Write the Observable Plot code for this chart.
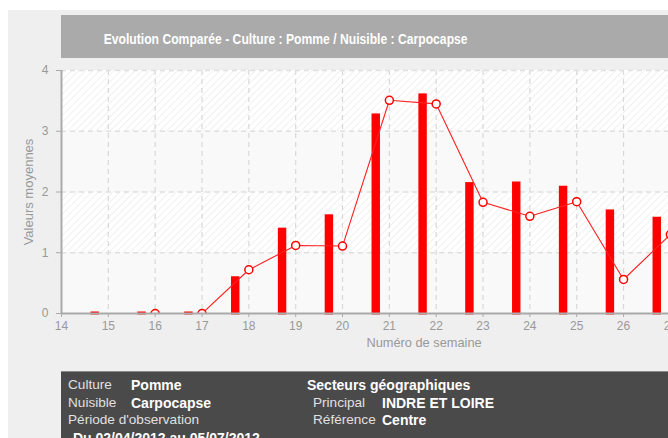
<!DOCTYPE html>
<html><head><meta charset="utf-8">
<script src="https://cdn.jsdelivr.net/npm/d3@7"></script>
<script src="https://cdn.jsdelivr.net/npm/@observablehq/plot@0.6"></script>
<style>
html,body{margin:0;padding:0;width:668px;height:438px;overflow:hidden;background:#fff;font-family:"Liberation Sans",Arial,sans-serif;}
#panel{position:absolute;left:8px;top:10px;width:700px;height:500px;background:#efefef;}
#title{position:absolute;left:61px;top:15px;width:700px;height:43px;background:#aaa;}
#title div{position:absolute;left:0;top:2px;width:448px;text-align:center;line-height:43px;}
#title span{display:inline-block;transform:scaleX(0.81);color:#fff;font-weight:bold;font-size:15px;white-space:nowrap;}
#chart{position:absolute;left:0;top:0;}
#info{position:absolute;left:61px;top:371px;width:700px;height:100px;background:#4a4a4a;border-top:1px solid #8a8a8a;color:#fff;font-size:14px;}
#info span{position:absolute;white-space:nowrap;line-height:16px;}
.lab{color:#e0e0e0;font-size:13.6px;}
.val{font-weight:bold;color:#fff;}
</style>
</head><body>
<svg width="0" height="0" style="position:absolute"><defs>
<pattern id="hatch" patternUnits="userSpaceOnUse" width="5" height="5" patternTransform="rotate(45)">
<rect width="5" height="5" fill="#ffffff"/><line x1="0" y1="0" x2="0" y2="5" stroke="#ebebeb" stroke-width="1.5"/>
</pattern></defs></svg>
<div id="panel"></div>
<div id="title"><div><span></span></div></div>
<div id="chart"></div>
<div id="info"></div>
<script>
const titleText = "Evolution Comparée - Culture : Pomme / Nuisible : Carpocapse";
const xLabel = "Numéro de semaine";
const yLabel = "Valeurs moyennes";

const barWeeks  = [15, 16, 17, 18, 19, 20, 21, 22, 23, 24, 25, 26, 27];
const barValues = [0, 0, 0, 0.58, 1.38, 1.60, 3.26, 3.59, 2.13, 2.14, 2.07, 1.68, 1.56];

const lineWeeks  = [16, 17, 18, 19, 20, 21, 22, 23, 24, 25, 26, 27];
const lineValues = [0, 0, 0.72, 1.12, 1.11, 3.51, 3.45, 1.83, 1.60, 1.84, 0.56, 1.30];

const xTicks = [14, 15, 16, 17, 18, 19, 20, 21, 22, 23, 24, 25, 26, 27];
const yTicks = [0, 1, 2, 3, 4];
const bandLo = [0, 1, 2, 3];
const bandHatched = [false, true, false, true];

const infoLeft = [
  ["Culture", "Pomme"],
  ["Nuisible", "Carpocapse"],
  ["Période d'observation", ""],
  ["", "Du 02/04/2012 au 05/07/2012"]
];
const infoRightTitle = "Secteurs géographiques";
const infoRight = [["Principal", "INDRE ET LOIRE"], ["Référence", "Centre"]];

document.querySelector("#title span").textContent = titleText;

const bars = barWeeks.map((w, i) => ({week: w, value: barValues[i]}));
const pts = lineWeeks.map((w, i) => ({week: w, value: lineValues[i]}));
const bands = bandLo.map((lo, i) => ({lo, hi: lo + 1, hatched: bandHatched[i]}));

const font = "'Liberation Sans', Arial, sans-serif";
const chart = Plot.plot({
  width: 668, height: 360,
  marginLeft: 61, marginTop: 70, marginRight: 0, marginBottom: 47,
  x: {domain: [14, 26.96]},
  y: {domain: [0, 4]},
  style: {background: "transparent", overflow: "visible", fontFamily: font, fontSize: "12px"},
  marks: [
    Plot.rect(bands.filter(d => d.hatched), {y1: "lo", y2: "hi", fill: "url(#hatch)"}),
    Plot.rect(bands.filter(d => !d.hatched), {y1: "lo", y2: "hi", fill: "#f9f9f9"}),
    Plot.gridX(xTicks.filter(d => d > 14), {stroke: "#d8d8d8", strokeOpacity: 1, strokeWidth: 1.2, strokeDasharray: "5,4"}),
    Plot.gridY(yTicks.filter(d => d > 0), {stroke: "#e0e0e0", strokeOpacity: 1, strokeWidth: 1.5, strokeDasharray: "5,4"}),
    Plot.rectY(bars, {x1: d => d.week - 0.37, x2: d => d.week - 0.19, y: "value", fill: "#ff0000", insetTop: -1.5, insetBottom: -1.5}),
    Plot.line(pts, {x: "week", y: "value", stroke: "#ff2020", strokeWidth: 1.1, clip: true}),
    Plot.dot(pts, {x: "week", y: "value", r: 4, fill: "white", stroke: "#ff0000", strokeWidth: 1.5, clip: true}),
    Plot.ruleY([0], {stroke: "#aaa", strokeWidth: 2}),
    Plot.ruleX([14], {stroke: "#aaa", strokeWidth: 2}),
    Plot.axisX(xTicks, {tickSize: 4, tickPadding: 4, stroke: "#aaa", fill: "#999", fontSize: 12, label: null, tickFormat: d => d}),
    Plot.axisY(yTicks, {tickSize: 5, tickPadding: 8, stroke: "#aaa", fill: "#999", fontSize: 12, label: null, tickFormat: d => d}),
    Plot.text([xLabel], {frameAnchor: "bottom", dx: 59, dy: 33, fill: "#999", fontSize: 12.8}),
    Plot.text([yLabel], {frameAnchor: "left", textAnchor: "middle", rotate: -90, dx: -33, fill: "#999", fontSize: 13})
  ]
});
document.getElementById("chart").appendChild(chart);

const info = document.getElementById("info");
function addSpan(txt, x, y, cls) {
  const s = document.createElement("span");
  s.textContent = txt; s.className = cls;
  s.style.left = x + "px"; s.style.top = y + "px";
  info.appendChild(s);
}
const rowY = [5, 22.5, 40, 57.5];
infoLeft.forEach((r, i) => {
  if (r[0]) addSpan(r[0], 7, rowY[i], "lab");
  if (r[1]) addSpan(r[1], i === 3 ? 12 : 70, rowY[i], "val");
});
addSpan(infoRightTitle, 246, rowY[0], "val");
infoRight.forEach((r, i) => {
  addSpan(r[0], 252, rowY[i + 1], "lab");
  addSpan(r[1], 321, rowY[i + 1], "val");
});
</script>
</body></html>
